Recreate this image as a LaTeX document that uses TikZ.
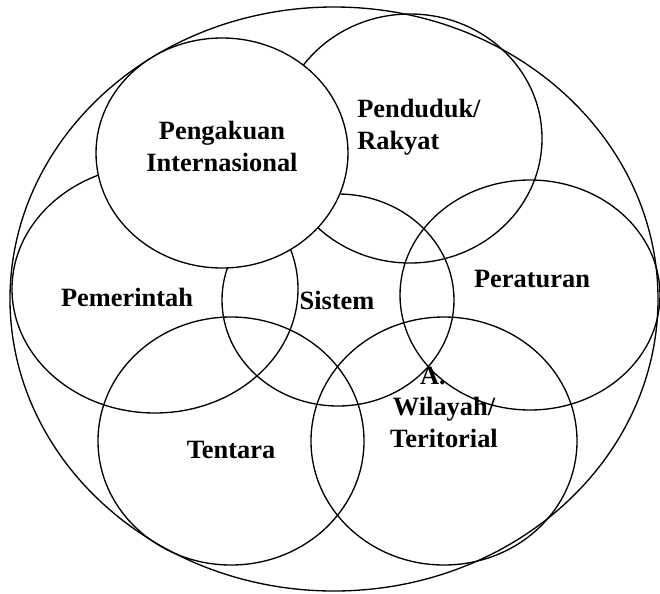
\documentclass[tikz,border=0pt]{standalone}
\usepackage{fontspec}
\setmainfont{Liberation Serif}
\usetikzlibrary{shapes.geometric}
\begin{document}
\begin{tikzpicture}[x=0.75pt,y=-0.75pt,
  ring/.style={draw=black,line width=1pt,ellipse,inner sep=0pt,outer sep=0pt},
  lbl/.style={font=\fontsize{19.8}{23.6}\selectfont\bfseries,inner sep=0pt,anchor=base,align=center}]
\useasboundingbox (0,0) rectangle (660,593);
% outer ellipse
\node[ring,minimum width=486pt,minimum height=438pt] (negara) at (334,299) {};
\node[ring,minimum width=214.5pt,minimum height=186pt] (pemerintah) at (155,289) {};
\node[ring,minimum width=174pt,minimum height=159pt] (sistem) at (338,300) {};
\node[ring,minimum width=198pt,minimum height=186.75pt] (penduduk) at (410,138.5) {};
\node[ring,fill=white,minimum width=189pt,minimum height=172.5pt] (pengakuan) at (222,153) {};
\node[ring,minimum width=195pt,minimum height=172.5pt] (peraturan) at (530,295) {};
\node[ring,minimum width=199.5pt,minimum height=186pt] (tentara) at (231,441) {};
\node[ring,minimum width=199.5pt,minimum height=186pt] (wilayah) at (444,441) {};
% labels (multi-line: base = last line)
\node[lbl] (tPengakuan) at (222,171) {Pengakuan\\Internasional};
\node[lbl,align=left,anchor=base west] (tPenduduk) at (357,149) {Penduduk/\\Rakyat};
\node[lbl] (tPeraturan) at (532,287) {Peraturan};
\node[lbl] (tPemerintah) at (127,306) {Pemerintah};
\node[lbl] (tSistem) at (337,309) {Sistem};
\node[lbl] (tTentara) at (231,458) {Tentara};
\node[lbl] (tA) at (433,384) {A.};
\node[lbl] (tWilayah) at (444,447) {Wilayah/\\Teritorial};
\end{tikzpicture}
\end{document}
